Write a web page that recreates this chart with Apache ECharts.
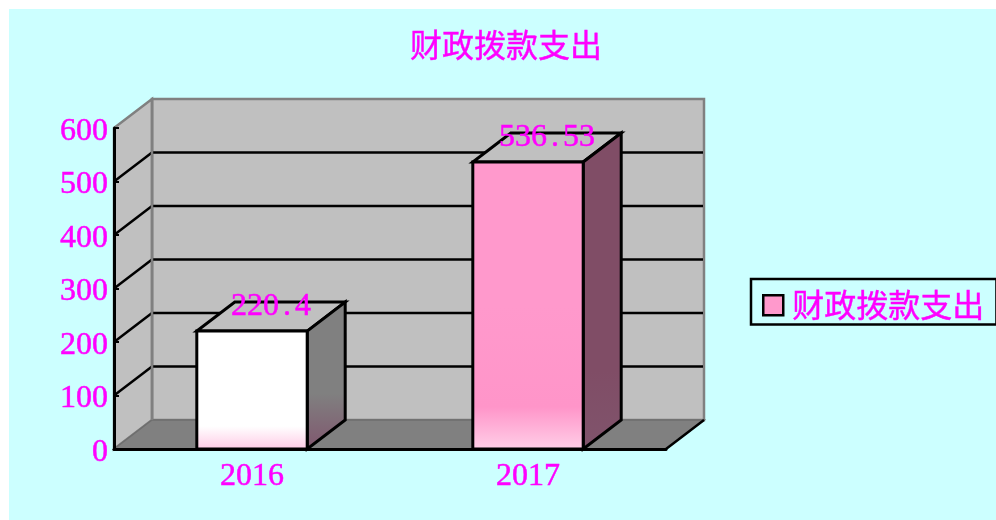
<!DOCTYPE html>
<html>
<head>
<meta charset="utf-8">
<style>html,body{margin:0;padding:0;background:#fff}#c{width:996px;height:520px}</style>
<script src="https://cdn.jsdelivr.net/npm/echarts@6/dist/echarts.min.js"></script>
</head>
<body>
<div id="c"></div>
<script>
var categories = ['2016', '2017'];
var values = [220.4, 536.53];
var yTicks = [0, 100, 200, 300, 400, 500, 600];
var seriesName = '财政拨款支出';

var DX = 38, DY = -29;
var MAGENTA = '#FF00FF';
var NUM_FONT = '"Liberation Serif", serif';
var CJK_FONT = '"Noto Sans CJK SC", sans-serif';
var G = echarts.graphic;
function grad(stops) {
  return new G.LinearGradient(0, 0, 0, 1, stops.map(function (s) { return { offset: s[0], color: s[1] }; }));
}
function poly(pts, fill, stroke, lw, z2) {
  return { type: 'polygon', z2: z2 || 0, shape: { points: pts }, style: { fill: fill, stroke: stroke || null, lineWidth: lw || 0, lineJoin: 'miter' } };
}
function line(a, b, stroke, lw, z2) {
  return { type: 'line', z2: z2 || 1, shape: { x1: a[0], y1: a[1], x2: b[0], y2: b[1] }, style: { stroke: stroke, lineWidth: lw } };
}
var frontFills = [
  [[0, '#FFFFFF'], [0.8, '#FFFFFF'], [1, '#FFC8E4']],
  [[0, '#FF99CC'], [0.5, '#FF99CC'], [0.85, '#FF95C9'], [1, '#FFD0E8']]
];
var sideFills = [
  [[0, '#808080'], [0.62, '#808080'], [1, '#80566E']],
  [[0, '#804D66'], [0.75, '#804D66'], [1, '#80546C']]
];

function renderFrame(params, api) {
  var band = api.size([1, 0])[0];
  var o = api.coord([0, 0]);
  var x0 = o[0] - band / 2, x1 = x0 + band * categories.length, y0 = o[1];
  var yTop = api.coord([0, yTicks[yTicks.length - 1]])[1];
  var kids = [
    poly([[x0 + DX, yTop + DY], [x1 + DX, yTop + DY], [x1 + DX, y0 + DY], [x0 + DX, y0 + DY]], '#C0C0C0', '#808080', 2.5),
    poly([[x0, yTop], [x0 + DX, yTop + DY], [x0 + DX, y0 + DY], [x0, y0]], '#C0C0C0', '#808080', 2.5),
    poly([[x0, y0], [x1, y0], [x1 + DX, y0 + DY], [x0 + DX, y0 + DY]], '#808080', '#6E6E6E', 1.5)
  ];
  yTicks.slice(1, -1).forEach(function (t) {
    var y = api.coord([0, t])[1];
    kids.push(line([x0, y], [x0 + DX, y + DY], '#000', 2.5));
    kids.push(line([x0 + DX, y + DY], [x1 + DX - 1, y + DY], '#000', 2.5));
  });
  kids.push(line([x0 + DX, yTop + DY], [x0 + DX, y0 + DY], '#808080', 2.5, 2));
  kids.push(line([x1, y0], [x1 + DX, y0 + DY], '#000', 2.5, 2));
  return { type: 'group', children: kids };
}

function renderBar(params, api) {
  var i = params.dataIndex;
  var w = api.size([1, 0])[0] * 0.4;
  var c = api.coord([api.value(0), api.value(1)]);
  var b = api.coord([api.value(0), 0]);
  var l = c[0] - w / 2, r = c[0] + w / 2, t = c[1], y0 = b[1];
  var txt = String(api.value(1));
  return {
    type: 'group',
    children: [
      poly([[l, t], [r, t], [r + DX, t + DY], [l + DX, t + DY]], '#C0C0C0', '#000', 3),
      poly([[r, t], [r + DX, t + DY], [r + DX, y0 + DY], [r, y0]], grad(sideFills[i]), '#000', 3),
      poly([[l, t], [r, t], [r, y0], [l, y0]], grad(frontFills[i]), '#000', 3),
      {
        type: 'text', x: c[0] + DX / 2, y: t + DY + 5, z2: 10,
        style: {
          text: txt.replace('.', '{p|.}'), fill: MAGENTA, font: '32px ' + NUM_FONT,
          stroke: MAGENTA, lineWidth: 0.5,
          align: 'center', verticalAlign: 'middle',
          rich: { p: { width: 16, align: 'center', fill: MAGENTA, font: '32px ' + NUM_FONT } }
        }
      }
    ]
  };
}

var chart = echarts.init(document.getElementById('c'), null, { renderer: 'canvas' });
chart.setOption({
  animation: false,
  backgroundColor: '#FFFFFF',
  graphic: [{ type: 'rect', z: -10, shape: { x: 9, y: 9, width: 987, height: 511 }, style: { fill: '#CCFFFF' } }],
  title: {
    text: seriesName, left: 501, top: 20, textAlign: 'center',
    textStyle: { color: MAGENTA, fontFamily: CJK_FONT, fontSize: 32, fontWeight: 'normal', lineHeight: 40, textBorderColor: MAGENTA, textBorderWidth: 0.4 }
  },
  legend: {
    left: 751, top: 279, orient: 'vertical', padding: [10, 12, 3, 11],
    borderColor: '#000', borderWidth: 2.5, borderRadius: 0,
    itemWidth: 20, itemHeight: 20, itemGap: 0, selectedMode: false,
    textStyle: { color: MAGENTA, fontFamily: CJK_FONT, fontSize: 32, padding: [0, 0, 0, 4], textBorderColor: MAGENTA, textBorderWidth: 0.4 },
    data: [{ name: seriesName, icon: 'rect', itemStyle: { color: '#FF99CC', borderColor: '#000', borderWidth: 2.5 } }]
  },
  grid: { left: 114, top: 128, width: 552, height: 321, containLabel: false },
  xAxis: {
    type: 'category', data: categories, z: 5,
    axisLine: { lineStyle: { color: '#000', width: 3 } },
    axisTick: { inside: true, length: 5, lineStyle: { color: '#000', width: 2 }, alignWithLabel: false },
    axisLabel: { color: MAGENTA, fontFamily: NUM_FONT, fontSize: 32, margin: 12, textBorderColor: MAGENTA, textBorderWidth: 0.5 },
    splitLine: { show: false }
  },
  yAxis: {
    type: 'value', min: 0, max: 600, interval: 100, z: 5,
    axisLine: { show: true, lineStyle: { color: '#000', width: 3 } },
    axisTick: { show: true, inside: true, length: 5, lineStyle: { color: '#000', width: 2 } },
    axisLabel: {
      margin: 6, formatter: '{n|{value}}',
      rich: { n: { color: MAGENTA, fontFamily: NUM_FONT, fontSize: 32, lineHeight: 32, padding: [7, 0, 0, 0], textBorderColor: MAGENTA, textBorderWidth: 0.5 } }
    },
    splitLine: { show: false }
  },
  series: [
    { type: 'custom', z: 1, silent: true, renderItem: renderFrame, data: [[0, 0]], encode: { x: 0, y: 1 }, clip: false },
    {
      type: 'custom', name: seriesName, z: 2, renderItem: renderBar, clip: false,
      itemStyle: { color: '#FF99CC' },
      data: values.map(function (v, i) { return [i, v]; }), encode: { x: 0, y: 1 }
    }
  ]
});
</script>
</body>
</html>
